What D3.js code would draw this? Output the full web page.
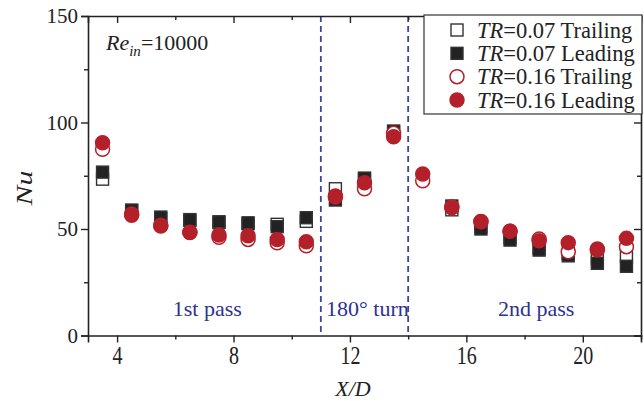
<!DOCTYPE html>
<html><head><meta charset="utf-8">
<script src="https://cdn.jsdelivr.net/npm/d3@7"></script>
<style>
html,body{margin:0;padding:0;background:#fff;}
svg{display:block;font-family:"Liberation Serif","Times New Roman",serif;}
</style></head>
<body><svg id="c" width="644" height="401"></svg>
<script>
const xPos = [3.5,4.5,5.5,6.5,7.5,8.5,9.5,10.5,11.5,12.5,13.5,14.5,15.5,16.5,17.5,18.5,19.5,20.5,21.5];
const tr007Trailing = [73.4,58.5,55.0,54.0,53.0,52.5,52.2,53.6,68.9,73.5,95.5,null,59.0,51.0,46.0,41.0,38.5,36.0,37.0];
const tr007Leading  = [76.7,58.9,55.6,54.4,53.4,52.9,51.1,55.3,63.6,73.9,96.0,null,60.8,50.0,44.8,40.1,37.4,33.9,32.5];
const tr016Trailing = [87.4,57.0,51.8,48.5,46.1,45.1,43.5,42.1,65.0,68.9,94.9,72.6,60.5,53.5,49.0,45.3,39.3,40.2,41.7];
const tr016Leading  = [90.5,56.5,51.4,48.4,47.2,46.8,45.1,44.0,65.5,71.7,93.3,75.8,60.0,53.4,49.0,44.5,43.6,40.6,45.6];
const xTicks = [4,8,12,16,20];
const xMinor = [6,10,14,18,22];
const yTicks = [0,50,100,150];
const yMinor = [25,75,125];
const dividers = [11,14];
const regions = [{label:"1st pass", x:7.1}, {label:"180° turn", x:12.6}, {label:"2nd pass", x:18.4}];
const legendItems = ["0.07 Trailing","0.07 Leading","0.16 Trailing","0.16 Leading"];

const svg = d3.select("#c");
const L=88, R=641, T=16, B=335.5;
const x = d3.scaleLinear().domain([3,22]).range([L,R]);
const y = d3.scaleLinear().domain([0,150]).range([B,T]);
const ink = "#222", red = "#b4202a", blue = "#3a46a0", navy = "#2e3192";

// dividers
svg.selectAll(".div").data(dividers).enter().append("line")
  .attr("x1",d=>x(d)).attr("x2",d=>x(d)).attr("y1",T).attr("y2",B)
  .attr("stroke",blue).attr("stroke-width",1.8).attr("stroke-dasharray","6,4");

// axes
const axBottom = svg.append("g").attr("transform",`translate(0,${B})`)
  .call(d3.axisBottom(x).tickValues(xTicks).tickSize(7).tickFormat(d3.format("d")));
const axBottomMinor = svg.append("g").attr("transform",`translate(0,${B})`)
  .call(d3.axisBottom(x).tickValues(xMinor).tickSize(4).tickFormat(""));
const axLeft = svg.append("g").attr("transform",`translate(${L},0)`)
  .call(d3.axisLeft(y).tickValues(yTicks).tickSize(7).tickPadding(3).tickFormat(d3.format("d")));
const axLeftMinor = svg.append("g").attr("transform",`translate(${L},0)`)
  .call(d3.axisLeft(y).tickValues(yMinor).tickSize(4).tickFormat(""));
const axTop = svg.append("g").attr("transform",`translate(0,${T})`)
  .call(d3.axisTop(x).tickValues(xTicks).tickSize(-7).tickFormat(""));
const axTopMinor = svg.append("g").attr("transform",`translate(0,${T})`)
  .call(d3.axisTop(x).tickValues(xMinor).tickSize(-4).tickFormat(""));
const axRight = svg.append("g").attr("transform",`translate(${R},0)`)
  .call(d3.axisRight(y).tickValues(yTicks).tickSize(-7).tickFormat(""));
const axRightMinor = svg.append("g").attr("transform",`translate(${R},0)`)
  .call(d3.axisRight(y).tickValues(yMinor).tickSize(-4).tickFormat(""));
[axBottom,axBottomMinor,axLeft,axLeftMinor,axTop,axTopMinor,axRight,axRightMinor].forEach(g=>{
  g.attr("font-family","Liberation Serif");
  g.selectAll("path").attr("stroke",ink).attr("stroke-width",1.6);
  g.selectAll("line").attr("stroke",ink).attr("stroke-width",1.4);
  g.selectAll("text").attr("font-family","Liberation Serif").attr("font-size","21px").attr("fill",ink);
});
[axBottomMinor,axLeftMinor,axTopMinor,axRightMinor].forEach(g=>g.select("path").remove());
axBottom.selectAll("text").attr("font-size","20px").attr("y",0).attr("dy",0)
  .attr("transform","translate(0,28.5) scale(1,1.3)");

// region labels
svg.selectAll(".reg").data(regions).enter().append("text")
  .attr("x",d=>x(d.x)).attr("y",316).attr("text-anchor","middle")
  .attr("font-size","22px").attr("fill",navy).text(d=>d.label);

// markers
const S = 12, Rc = 7;
function squares(data, fill, cls){
  svg.selectAll("."+cls).data(xPos.map((v,i)=>({x:v,y:data[i]})).filter(d=>d.y!=null)).enter()
    .append("rect").attr("class",cls)
    .attr("x",d=>x(d.x)-S/2).attr("y",d=>y(d.y)-S/2).attr("width",S).attr("height",S)
    .attr("fill",fill).attr("stroke","#333").attr("stroke-width",1.4);
}
function circles(data, fill, cls){
  svg.selectAll("."+cls).data(xPos.map((v,i)=>({x:v,y:data[i]})).filter(d=>d.y!=null)).enter()
    .append("circle").attr("class",cls)
    .attr("cx",d=>x(d.x)).attr("cy",d=>y(d.y)).attr("r",Rc)
    .attr("fill",fill).attr("stroke",red).attr("stroke-width",1.5);
}
squares(tr007Trailing,"#fff","s1");
squares(tr007Leading,"#222","s2");
circles(tr016Trailing,"#fff","c1");
circles(tr016Leading,red,"c2");

// Re label
const re = svg.append("text").attr("x",106).attr("y",50).attr("font-size","22px").attr("fill",ink);
re.append("tspan").attr("font-style","italic").text("Re");
re.append("tspan").attr("font-style","italic").attr("font-size","15px").attr("dy",6).text("in");
re.append("tspan").attr("dy",-6).text("=10000");

// axis titles
svg.append("text").attr("transform","translate(32,188) rotate(-90) scale(1.3,1)").attr("text-anchor","middle")
  .attr("font-size","23px").attr("font-style","italic").attr("fill",ink).text("Nu");
svg.append("text").attr("x",353).attr("y",396).attr("text-anchor","middle")
  .attr("font-size","22px").attr("font-style","italic").attr("fill",ink).text("X/D");

// legend
const lg = svg.append("g");
lg.append("rect").attr("x",424).attr("y",15).attr("width",218).attr("height",99)
  .attr("fill","#fff").attr("stroke","#333").attr("stroke-width",1.2);
const ly = d3.scalePoint().domain(legendItems).range([30,100]);
legendItems.forEach((t,i)=>{
  const cy = ly(t);
  if(i<2){
    lg.append("rect").attr("x",457-S/2).attr("y",cy-S/2).attr("width",S).attr("height",S)
      .attr("fill",i==0?"#fff":"#222").attr("stroke","#333").attr("stroke-width",1.4);
  } else {
    lg.append("circle").attr("cx",457).attr("cy",cy).attr("r",Rc)
      .attr("fill",i==2?"#fff":red).attr("stroke",red).attr("stroke-width",1.5);
  }
  const tx = lg.append("text").attr("x",477).attr("y",cy+7.5).attr("font-size","22.5px").attr("fill",ink);
  tx.append("tspan").attr("font-style","italic").text("TR");
  tx.append("tspan").text("="+t);
});
</script></body></html>
